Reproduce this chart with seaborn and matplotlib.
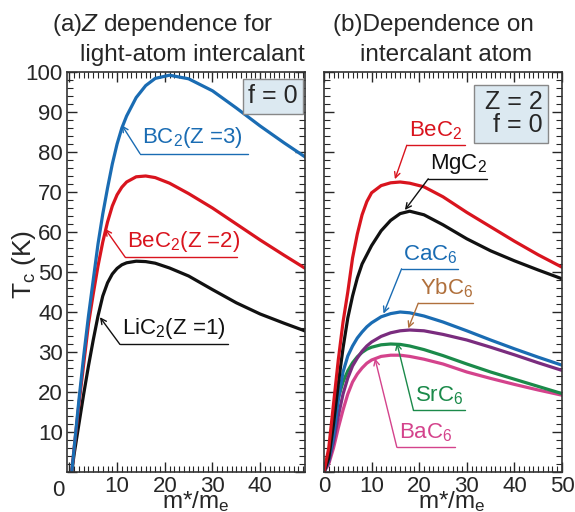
import pandas as pd
import matplotlib
matplotlib.use("Agg")
import matplotlib.pyplot as plt
import seaborn as sns
from matplotlib.ticker import MultipleLocator

# -------------------------
# Data
# -------------------------
m_left = [0.5, 1, 2, 3, 4, 5, 6, 7, 8, 9, 10, 11, 12, 14, 16, 18, 21, 25, 30, 35, 40, 45, 50]
tc_bc2 = [0, 6, 18, 29, 39, 48, 57, 64.5, 71, 77, 82, 86, 89, 93.6, 96.6, 98.4, 99.2, 98.3,
          95.3, 91, 86.5, 82.3, 78.3]
tc_bec2_z2 = [0, 6, 17, 27, 37, 44.5, 51.5, 57.5, 62.5, 66.5, 69.3, 71.2, 72.5, 73.8, 74, 73.6,
              72.2, 69.6, 66, 62, 58, 54.2, 50.5]
tc_lic2 = [0, 4.5, 12, 19.5, 26.5, 33, 39, 44, 47.3, 49.5, 50.9, 51.8, 52.3, 52.7, 52.6, 52.2,
           51, 49, 45.6, 42.3, 39.5, 37.2, 35]

m_right = [0, 1, 2, 3, 4, 5, 6, 7, 8, 9, 10, 12, 14, 16, 18, 21, 25, 30, 35, 40, 45, 50]
tc_bec2 = [0, 6, 17, 28, 37.5, 45, 53.5, 59.5, 64.3, 67.6, 69.8, 71.6, 72.3, 72.5, 72.2, 71.3,
           68.8, 64.9, 61.3, 57.7, 54.3, 51.2]
tc_mgc2 = [0, 3.5, 12, 22, 31, 38.5, 44, 48.5, 52, 54.3, 56.6, 60.3, 62.9, 64.6, 65.2, 64.3,
           61.8, 58.3, 55.3, 52.8, 50.5, 48.3]
tc_cac6 = [0, 3, 9, 18, 25, 29, 31.5, 33.5, 35, 36.3, 37.3, 38.8, 39.6, 40, 39.8, 39, 37.5,
           35.3, 33, 30.8, 28.7, 26.7]
tc_ybc6 = [0, 2.5, 7.5, 14, 19.5, 23.5, 26.5, 28.5, 30.2, 31.5, 32.5, 33.9, 34.8, 35.3, 35.5,
           35.3, 34.4, 33, 31.2, 29.3, 27.3, 25.4]
tc_src6 = [0, 5, 12, 18.5, 22.5, 25.3, 27.3, 28.8, 29.9, 30.7, 31.2, 31.8, 32, 31.9, 31.5,
           30.6, 29.1, 27, 25, 23.2, 21.4, 19.6]
tc_bac6 = [0, 2, 6, 11, 15.5, 19.5, 22.5, 24.5, 26, 27.2, 28, 28.9, 29.2, 29.2, 28.9, 28.2,
           27, 25, 23.4, 21.9, 20.5, 19.2]

left_names = ["LiC2", "BeC2", "BC2"]
right_names = ["BaC6", "SrC6", "YbC6", "CaC6", "MgC2", "BeC2"]

colors = {"BC2": "#1a6cb3", "BeC2": "#d9141e", "LiC2": "#111111", "MgC2": "#111111",
          "CaC6": "#1a6cb3", "YbC6": "#7a2c7e", "SrC6": "#1b8a4a", "BaC6": "#d4438c"}
ybc6_label = "#b0703c"

df_left = pd.concat([
    pd.DataFrame({"m": m_left, "Tc": tc_lic2, "name": "LiC2"}),
    pd.DataFrame({"m": m_left, "Tc": tc_bec2_z2, "name": "BeC2"}),
    pd.DataFrame({"m": m_left, "Tc": tc_bc2, "name": "BC2"}),
])
df_right = pd.concat([
    pd.DataFrame({"m": m_right, "Tc": tc_bac6, "name": "BaC6"}),
    pd.DataFrame({"m": m_right, "Tc": tc_src6, "name": "SrC6"}),
    pd.DataFrame({"m": m_right, "Tc": tc_ybc6, "name": "YbC6"}),
    pd.DataFrame({"m": m_right, "Tc": tc_cac6, "name": "CaC6"}),
    pd.DataFrame({"m": m_right, "Tc": tc_mgc2, "name": "MgC2"}),
    pd.DataFrame({"m": m_right, "Tc": tc_bec2, "name": "BeC2"}),
])

# -------------------------
# Style
# -------------------------
sns.set_style("ticks")
plt.rcParams["font.family"] = ["Liberation Sans", "DejaVu Sans"]
plt.rcParams["mathtext.fontset"] = "custom"
plt.rcParams["mathtext.rm"] = "Liberation Sans"
plt.rcParams["mathtext.it"] = "Liberation Sans:italic"
plt.rcParams["mathtext.default"] = "regular"

fig = plt.figure(figsize=(5.75, 5.12), dpi=100)
ax1 = fig.add_axes([67 / 575, 40 / 512, 238 / 575, 400 / 512])
ax2 = fig.add_axes([324 / 575, 40 / 512, 238 / 575, 400 / 512])

sns.lineplot(data=df_left, x="m", y="Tc", hue="name", hue_order=left_names,
             palette=colors, estimator=None, sort=False, lw=2.3, legend=False, ax=ax1)
sns.lineplot(data=df_right, x="m", y="Tc", hue="name", hue_order=right_names,
             palette=colors, estimator=None, sort=False, lw=2.3, legend=False, ax=ax2)

for ax in (ax1, ax2):
    ax.set_ylim(0, 100)
    ax.xaxis.set_major_locator(MultipleLocator(10))
    ax.xaxis.set_minor_locator(MultipleLocator(1))
    ax.yaxis.set_major_locator(MultipleLocator(10))
    ax.yaxis.set_minor_locator(MultipleLocator(2))
    ax.tick_params(which="both", direction="in", top=True, right=True, labelsize=16, pad=3)
    ax.tick_params(which="major", length=7, width=1)
    ax.tick_params(which="minor", length=4, width=0.8)
    for s in ax.spines.values():
        s.set_linewidth(1.2)
        s.set_color("#333333")
    ax.set_xlabel("")
    ax.set_ylabel("")
    for l in ax.get_lines():
        l.set_solid_capstyle("round")
        l.set_solid_joinstyle("round")

ax1.set_xlim(-0.5, 49.4)
ax1.set_xticks([0, 10, 20, 30, 40])
ax1.set_xticklabels(["", "10", "20", "30", "40"])
ax1.set_yticks(range(0, 101, 10))
ax1.set_yticklabels([""] + [str(v) for v in range(10, 101, 10)])
ax1.text(-0.038, -0.045, "0", transform=ax1.transAxes, ha="center", va="center", fontsize=16)
ax2.set_xlim(0, 50)
ax2.set_xticks([0, 10, 20, 30, 40, 50])
ax2.tick_params(labelleft=False)


def tag(ax, text, tip, corner, end, color, tcolor=None):
    ax.annotate("", xy=tip, xytext=corner,
                arrowprops=dict(arrowstyle="->", color=color, lw=1, shrinkA=0, shrinkB=0))
    ax.plot([corner[0], end], [corner[1], corner[1]], color=color, lw=1)
    ax.text(corner[0] + 0.4, corner[1] + 0.8, text, color=tcolor or color,
            fontsize=16, ha="left", va="bottom")


# labels, left panel
tag(ax1, "BC$_2$(Z =3)", (11, 86.7), (14.8, 79.6), 37.5, colors["BC2"])
tag(ax1, "BeC$_2$(Z =2)", (7.5, 60.8), (11.7, 53.7), 35.1, colors["BeC2"])
tag(ax1, "LiC$_2$(Z =1)", (6.4, 38.7), (10.6, 31.9), 33.3, colors["LiC2"])

# labels, right panel
tag(ax2, "BeC$_2$", (14.9, 73.2), (17.4, 81.7), 29.6, colors["BeC2"])
tag(ax2, "MgC$_2$", (17, 65.5), (21.9, 73.3), 34.2, colors["MgC2"])
tag(ax2, "CaC$_6$", (12.5, 39.6), (16.3, 50.8), 28.2, colors["CaC6"])
tag(ax2, "YbC$_6$", (17.7, 35.9), (19.8, 42.2), 31.4, ybc6_label)
tag(ax2, "SrC$_6$", (15.3, 32.3), (18.8, 15.4), 29.6, colors["SrC6"])
tag(ax2, "BaC$_6$", (10.7, 28.4), (15.3, 6.2), 27.5, colors["BaC6"])

box = dict(boxstyle="square,pad=0.22", facecolor="#dce9f1", edgecolor="#888888", lw=1)
ax1.text(0.97, 0.97, "f = 0", transform=ax1.transAxes, ha="right", va="top",
         fontsize=18, bbox=box)
ax2.text(0.92, 0.955, "Z = 2\n  f = 0", transform=ax2.transAxes, ha="right", va="top",
         fontsize=18, linespacing=0.95, bbox=box)

# titles and axis labels
fig.text(52 / 575, 1 - 25 / 512, "(a)$\\it{Z}$ dependence for", fontsize=17.5, va="center", ha="left")
fig.text(80 / 575, 1 - 55 / 512, "light-atom intercalant", fontsize=17.5, va="center", ha="left")
fig.text(333 / 575, 1 - 25 / 512, "(b)Dependence on", fontsize=17.5, va="center", ha="left")
fig.text(360 / 575, 1 - 55 / 512, "intercalant atom", fontsize=17.5, va="center", ha="left")

fig.text(24 / 575, 1 - 264 / 512, "T$_{\\rm c}$ (K)", fontsize=19, rotation=90, ha="center", va="center")
fig.text(196 / 575, 1 - 502 / 512, "m*/m$_{\\rm e}$", fontsize=17.5, ha="center", va="center")
fig.text(452 / 575, 1 - 502 / 512, "m*/m$_{\\rm e}$", fontsize=17.5, ha="center", va="center")

fig.savefig("out.png", dpi=100)
